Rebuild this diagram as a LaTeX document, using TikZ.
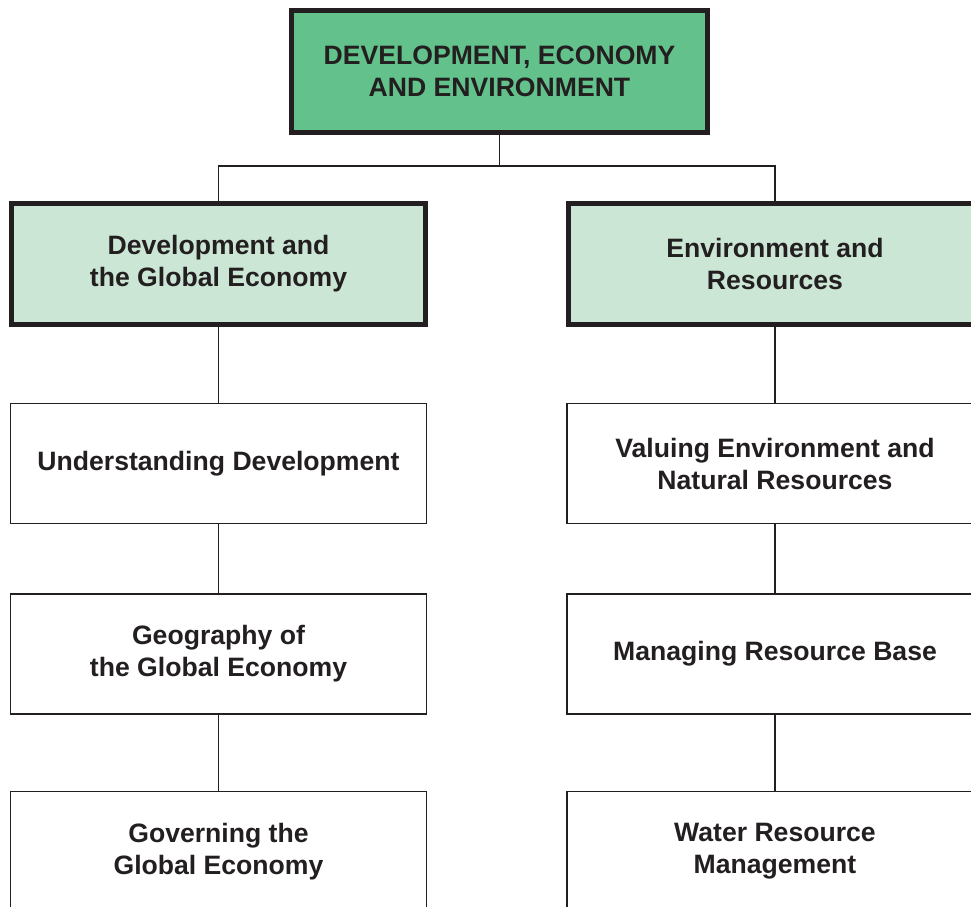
\documentclass[tikz,border=0pt]{standalone}
\usepackage{fontspec}
\setmainfont{Liberation Sans}
\definecolor{topgreen}{RGB}{99,194,139}
\definecolor{midgreen}{RGB}{204,230,214}
\definecolor{ink}{RGB}{35,31,32}
\begin{document}
\begin{tikzpicture}[x=1pt,y=-1pt,
  lbl/.style={align=center,font=\fontsize{26.6}{32}\selectfont\bfseries,text=ink,inner sep=0pt},
  topbox/.style={lbl,draw=ink,line width=5pt,fill=topgreen,minimum width=416pt,minimum height=122pt},
  midbox/.style={lbl,draw=ink,line width=5pt,fill=midgreen,minimum width=414pt,minimum height=121pt},
  leafbox/.style={lbl,draw=ink,line width=1.2pt,fill=white,minimum width=416pt,minimum height=120pt},
  conn/.style={draw=ink,line width=1.2pt}]
\useasboundingbox (0,0) rectangle (971,906);
\clip (0,0) rectangle (971,906);
\node[topbox] (top) at (499.5,71.5) {DEVELOPMENT, ECONOMY\\AND ENVIRONMENT};
\node[midbox] (dev) at (218.5,264) {Development and\\the Global Economy};
\node[midbox] (env) at (775,264) {Environment and\\Resources};
\node[leafbox] (d1) at (218.5,463.5) {Understanding Development};
\node[leafbox] (d2) at (218.5,654) {Geography of\\the Global Economy};
\node[leafbox] (d3) at (218.5,851.5) {Governing the\\Global Economy};
\node[leafbox] (e1) at (775,463.5) {Valuing Environment and\\Natural Resources};
\node[leafbox] (e2) at (775,654) {Managing Resource Base};
\node[leafbox] (e3) at (775,851.5) {Water Resource\\Management};
\coordinate (j) at (499.5,166);
\draw[conn] (top.south) -- (j);
\draw[conn] (j) -| (dev.north);
\draw[conn] (j) -| (env.north);
\draw[conn] (dev.south) -- (d1.north);
\draw[conn] (d1.south) -- (d2.north);
\draw[conn] (d2.south) -- (d3.north);
\draw[conn] (env.south) -- (e1.north);
\draw[conn] (e1.south) -- (e2.north);
\draw[conn] (e2.south) -- (e3.north);
\end{tikzpicture}
\end{document}
